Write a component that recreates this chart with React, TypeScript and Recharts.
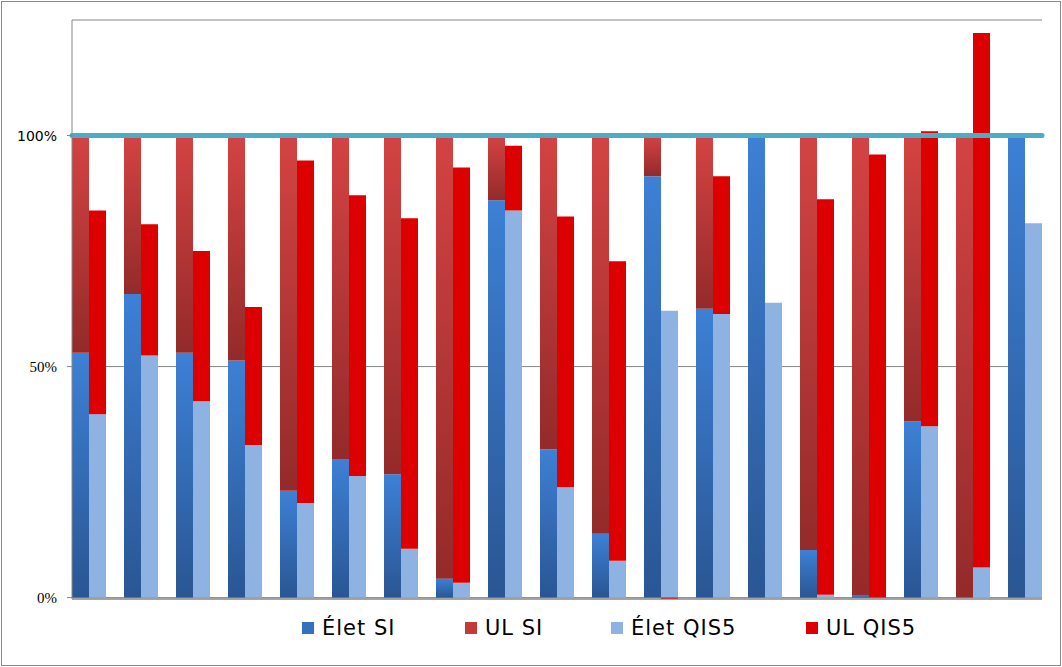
import React from "react";
import {
  BarChart,
  Bar,
  XAxis,
  YAxis,
  CartesianGrid,
  ReferenceLine,
} from "recharts";

const categories = [
  "1", "2", "3", "4", "5", "6", "7", "8", "9", "10",
  "11", "12", "13", "14", "15", "16", "17", "18", "19",
];
const eletSI = [53.0, 65.7, 53.0, 51.3, 23.1, 30.0, 26.7, 4.1, 86.0, 32.1, 13.8, 91.2, 62.5, 100, 10.3, 0.4, 38.1, 0, 100];
const ulSI = [47.0, 34.3, 47.0, 48.7, 76.9, 70.0, 73.3, 95.9, 14.0, 67.9, 86.2, 8.8, 37.5, 0, 89.7, 99.6, 61.9, 100, 0];
const eletQIS5 = [39.7, 52.4, 42.5, 33.0, 20.5, 26.3, 10.6, 3.2, 83.8, 23.9, 8.0, 62.1, 61.4, 63.8, 0.6, 0, 37.1, 6.5, 81.0];
const ulQIS5 = [44.1, 28.4, 32.5, 29.9, 74.1, 60.8, 71.5, 89.9, 14.0, 58.6, 64.8, -0.3, 29.8, 0, 85.6, 95.9, 63.8, 115.7, 0];
const yTicks = [0, 50, 100];

const LEGEND_ITEMS = [
  { label: "Élet SI", color: "#3470bf", left: 302 },
  { label: "UL SI", color: "#c23a3a", left: 465 },
  { label: "Élet QIS5", color: "#8eb3e2", left: 611 },
  { label: "UL QIS5", color: "#dd0000", left: 806 },
];

const data = categories.map((name, i) => ({
  name,
  eletSI: eletSI[i],
  ulSI: ulSI[i],
  eletQIS5: eletQIS5[i],
  ulQIS5: ulQIS5[i],
}));

// the 100% label in the source is in a sans face, the others in a serif one
const YTick = (props: any) => {
  const { x, y, payload } = props;
  const sans = payload.value === 100;
  return (
    <text
      x={x - 8}
      y={y}
      dy={5}
      textAnchor="end"
      fontSize={sans ? 14 : 15}
      fontFamily={sans ? "DejaVu Sans, Verdana, sans-serif" : "Liberation Serif, Times New Roman, serif"}
      fill="#000"
    >
      {`${payload.value}%`}
    </text>
  );
};

const LegendBox = () => (
  <div style={{ position: "absolute", left: 0, top: 616, width: 1062, height: 30 }}>
    {LEGEND_ITEMS.map((it) => (
      <div
        key={it.label}
        style={{
          position: "absolute",
          left: it.left,
          top: 0,
          display: "flex",
          alignItems: "center",
          fontFamily: "DejaVu Sans, Verdana, sans-serif",
          fontSize: 21,
          letterSpacing: 1,
          color: "#000",
          whiteSpace: "nowrap",
        }}
      >
        <span
          style={{
            display: "inline-block",
            width: 12,
            height: 12,
            background: it.color,
            marginRight: 8,
          }}
        />
        {it.label}
      </div>
    ))}
  </div>
);

export default function App() {
  return (
    <div style={{ position: "absolute", left: 0, top: 0, width: 1062, height: 667, background: "#fff" }}>
      <BarChart
        width={1062}
        height={667}
        data={data}
        margin={{ top: 20, right: 20, left: 0, bottom: 38 }}
        barGap={0}
        barCategoryGap={9}
        stackOffset="sign"
      >
        <defs>
          <linearGradient id="eletSIFill" x1="0" y1="0" x2="0" y2="1">
            <stop offset="0%" stopColor="#3d80d5" />
            <stop offset="100%" stopColor="#2a5693" />
          </linearGradient>
          <linearGradient id="ulSIFill" x1="0" y1="0" x2="0" y2="1">
            <stop offset="0%" stopColor="#d44343" />
            <stop offset="100%" stopColor="#942a2a" />
          </linearGradient>
        </defs>
        <CartesianGrid vertical={false} stroke="#868686" />
        <XAxis
          dataKey="name"
          height={30}
          tick={false}
          tickLine={false}
          axisLine={{ stroke: "#868686" }}
          padding={{ left: -9, right: -9 }}
        />
        <YAxis
          width={72}
          domain={[0, 125]}
          ticks={yTicks}
          tick={<YTick />}
          tickLine={{ stroke: "#868686" }}
          tickSize={5}
          axisLine={{ stroke: "#868686" }}
        />
        <Bar dataKey="eletSI" name="Élet SI" stackId="si" fill="url(#eletSIFill)" isAnimationActive={false} />
        <Bar dataKey="ulSI" name="UL SI" stackId="si" fill="url(#ulSIFill)" isAnimationActive={false} />
        <Bar dataKey="eletQIS5" name="Élet QIS5" stackId="q" fill="#8eb3e2" isAnimationActive={false} />
        <Bar dataKey="ulQIS5" name="UL QIS5" stackId="q" fill="#dd0000" isAnimationActive={false} />
        <ReferenceLine y={100} stroke="#4bacc6" strokeWidth={5} strokeLinecap="round" />
      </BarChart>
      <LegendBox />
      <div
        style={{
          position: "absolute",
          left: 1,
          top: 1,
          width: 1060,
          height: 665,
          border: "1px solid #8a8a8a",
          boxSizing: "border-box",
          pointerEvents: "none",
        }}
      />
    </div>
  );
}
